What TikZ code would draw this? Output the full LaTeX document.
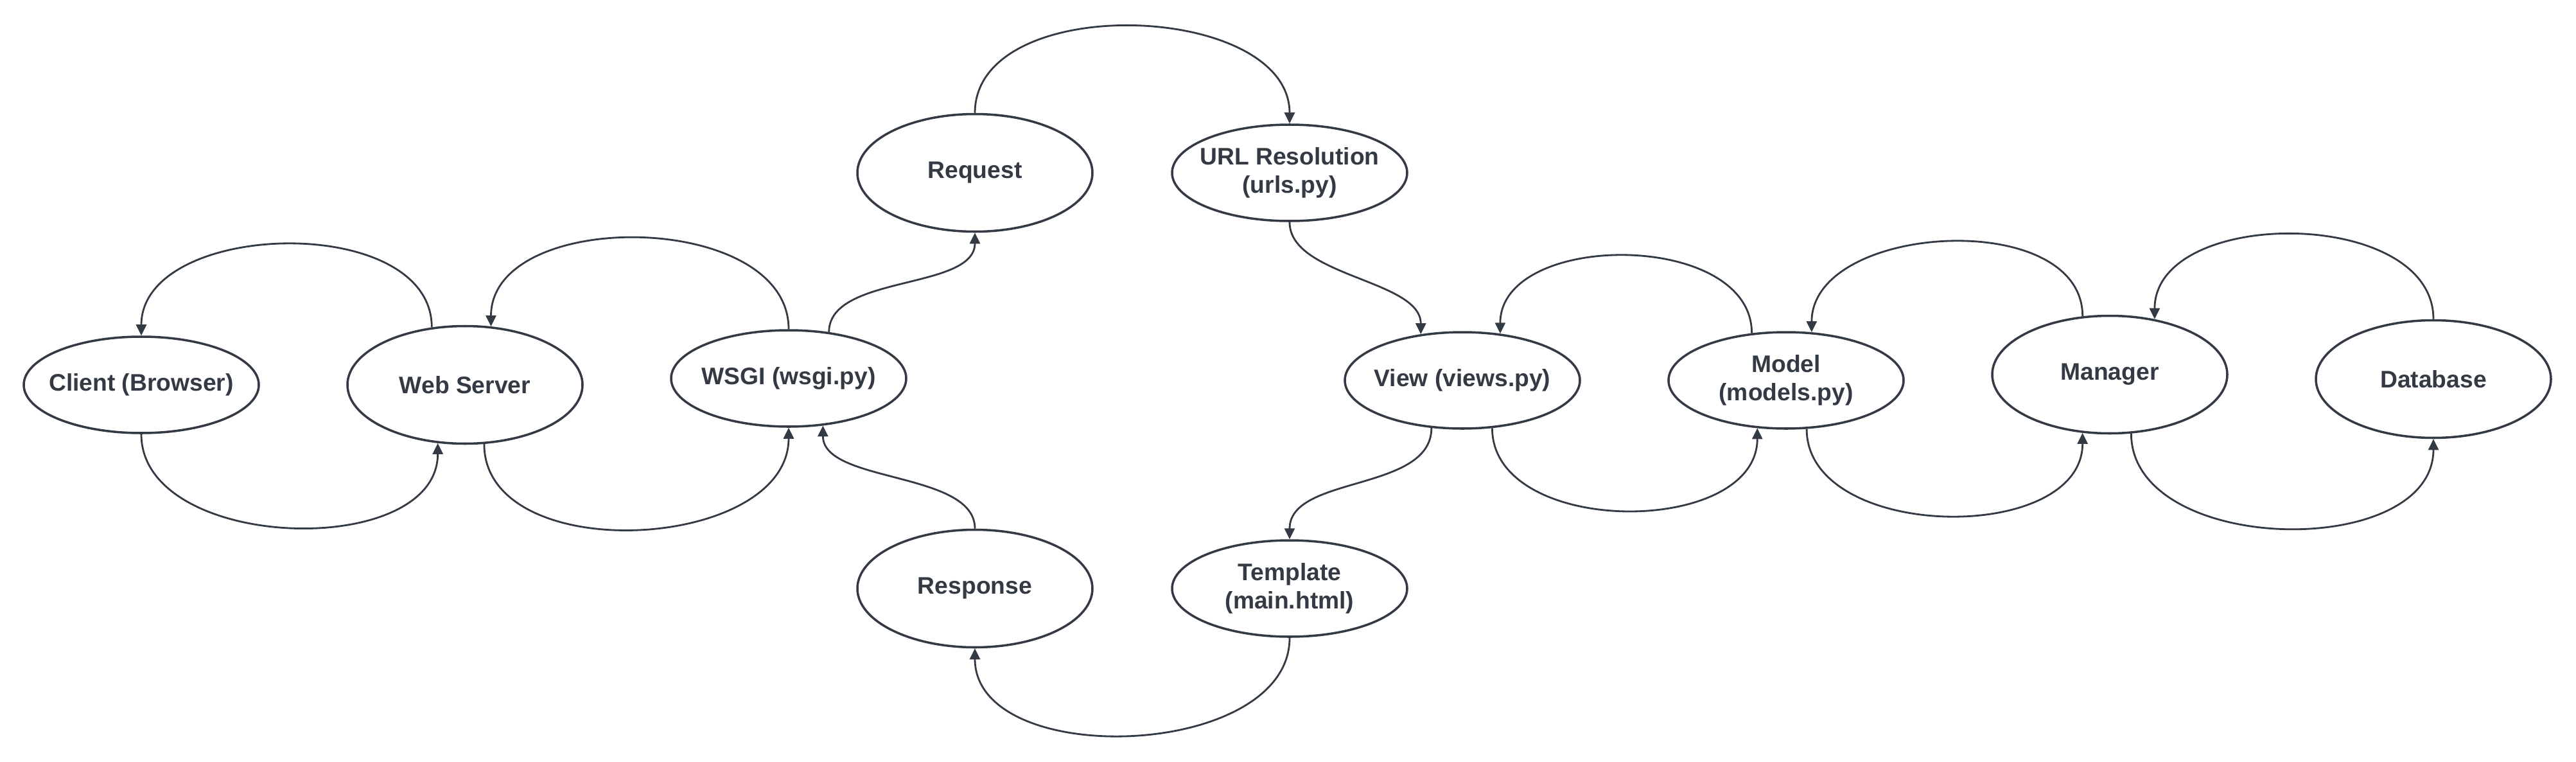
\documentclass[tikz,border=0pt]{standalone}
\usepackage{fontspec}
\setmainfont{Liberation Sans}
\usetikzlibrary{shapes,positioning,arrows.meta}
\definecolor{ink}{HTML}{333A44}

\begin{document}
\begin{tikzpicture}[
    node distance=5.04cm,
    color=ink,
    >={Triangle[length=1.7mm,width=1.6mm]},
    proc/.style={ellipse,draw,line width=1pt,minimum width=3.66cm,minimum height=1.5cm,inner xsep=-0.5cm,inner ysep=0pt,align=center,font=\fontsize{10.6}{12.6}\selectfont\bfseries},
    tallproc/.style={proc,minimum height=1.83cm},
    flow/.style={line width=0.8pt}
    ]
        \useasboundingbox (0,0) rectangle (40.11,11.85);
        \node [proc](client) at (2.20,5.86) {Client (Browser)};
        \node [tallproc](web) [right of=client] {Web Server};
        \node [proc](wsgi) [right of=web, yshift=1mm] {WSGI (wsgi.py)};
        \node [tallproc](request) at (15.18,9.16) {Request};
        \node [proc](url) at (20.08,9.16) {URL Resolution\\(urls.py)};
        \node [tallproc](response) at (15.18,2.69) {Response};
        \node [proc](template) at (20.08,2.69) {Template\\(main.html)};
        \node [proc](view) at (22.77,5.93) {View (views.py)};
        \node [proc](model) [right of=view] {Model\\(models.py)};
        \node [tallproc](manager) [right of=model, yshift=0.9mm] {Manager};
        \node [tallproc](database) [right of=manager, yshift=-0.7mm] {Database};
        % client / server / wsgi
        \draw [->,flow] (web.120.8) to[out=90,in=90,distance=1.8cm] (client.north);
        \draw [->,flow] (wsgi.north) to[out=90,in=90,distance=1.85cm] (web.66.3);
        \draw [->,flow] (client.south) to[out=-90,in=-90,distance=1.83cm] (web.245.8);
        \draw [->,flow] (web.288.5) to[out=-90,in=-90,distance=1.93cm] (wsgi.south);
        % request / response
        \draw [->,flow] (wsgi.49.2) to[out=90,in=-90,distance=0.9cm] (request.south);
        \draw [->,flow] (response.north) to[out=90,in=-90,distance=0.9cm] (wsgi.306.4);
        \draw [->,flow] (request.north) to[out=90,in=90,distance=1.9cm] (url.north);
        \draw [->,flow] (url.south) to[out=-90,in=90,distance=0.85cm] (view.132.5);
        \draw [->,flow] (view.237.4) to[out=-90,in=90,distance=1cm] (template.north);
        \draw [->,flow] (template.south) to[out=-90,in=-90,distance=1.9cm] (response.south);
        % view / model / manager / database
        \draw [->,flow] (model.126.6) to[out=90,in=90,distance=1.6cm] (view.51.7);
        \draw [->,flow] (manager.115.7) to[out=90,in=90,distance=1.7cm] (model.62.3);
        \draw [->,flow] (database.north) to[out=90,in=90,distance=1.75cm] (manager.51);
        \draw [->,flow] (view.302.6) to[out=-90,in=-90,distance=1.7cm] (model.239.2);
        \draw [->,flow] (model.293.8) to[out=-90,in=-90,distance=1.75cm] (manager.245.4);
        \draw [->,flow] (manager.290.6) to[out=-90,in=-90,distance=1.9cm] (database.south);
\end{tikzpicture}
\end{document}
